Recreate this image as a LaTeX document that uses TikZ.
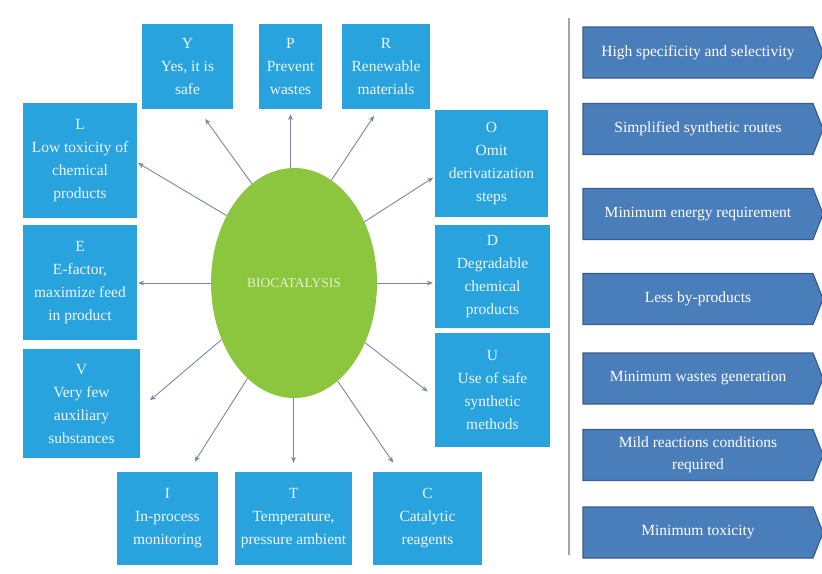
\documentclass[tikz,border=0pt]{standalone}
\usepackage{fontspec}
\setmainfont{Liberation Serif}
\usepackage{tikz}
\usetikzlibrary{shapes.geometric,shapes.symbols,arrows.meta}

\definecolor{letterblue}{RGB}{41,163,221}
\definecolor{lettertext}{RGB}{236,246,251}
\definecolor{meritblue}{RGB}{74,126,187}
\definecolor{meritline}{RGB}{56,93,138}
\definecolor{biogreen}{RGB}{140,198,63}
\definecolor{biotext}{RGB}{228,242,205}
\definecolor{raygray}{RGB}{120,136,165}
\definecolor{railgray}{RGB}{165,165,165}

\begin{document}
\begin{tikzpicture}[x=1pt,y=-1pt,
	letter/.style={fill=letterblue,text=lettertext,align=center,inner sep=0pt,
		font=\fontsize{15.5}{23}\selectfont},
	merit/.style={signal,signal to=east,signal pointer angle=137,fill=meritblue,
		draw=meritline,line width=1.2pt,text=white,align=center,inner sep=0pt,
		minimum width=240,minimum height=51,font=\fontsize{15.5}{22}\selectfont},
	ray/.style={draw=raygray,line width=0.9pt,-{Stealth[length=6pt,width=5pt]}}]
\useasboundingbox (0,0) rectangle (822,573);

% acrostic around the ellipse
\path (294,283) node[ellipse,fill=biogreen,minimum width=166,minimum height=230,
		inner sep=0pt,text=biotext,font=\fontsize{13.5}{15}\selectfont] (bio) {BIOCATALYSIS}
		(187.5,66.5) node[letter,minimum width=91,minimum height=85] (y) {Y\\Yes, it is\\safe}
		(290.5,66.5) node[letter,minimum width=63,minimum height=85] (p) {P\\Prevent\\wastes}
		(386,66.5) node[letter,minimum width=88,minimum height=85] (r) {R\\Renewable\\materials}
		(491.5,163.5) node[letter,minimum width=113,minimum height=107] (o) {O\\Omit\\derivatization\\steps}
		(492.5,276.5) node[letter,minimum width=115,minimum height=103] (d) {D\\Degradable\\chemical\\products}
		(492.5,390) node[letter,minimum width=115,minimum height=114] (u) {U\\Use of safe\\synthetic\\methods}
		(427.5,518.5) node[letter,minimum width=109,minimum height=93] (c) {C\\Catalytic\\reagents}
		(293.5,518.5) node[letter,minimum width=117,minimum height=93] (t) {T\\Temperature,\\pressure ambient}
		(167.5,518.5) node[letter,minimum width=101,minimum height=93] (i) {I\\In-process\\monitoring}
		(81.5,403.5) node[letter,minimum width=117,minimum height=109] (v) {V\\Very few\\auxiliary\\substances}
		(80,282.5) node[letter,minimum width=114,minimum height=115] (e) {E\\E-factor,\\maximize feed\\in product}
		(80,160.5) node[letter,minimum width=114,minimum height=115] (l) {L\\Low toxicity of\\chemical\\products}
		;

\draw[ray,shorten >=12pt] (node cs:name=bio,angle=113) -- (node cs:name=y,angle=-76);
\draw[ray,shorten >=5pt] (p.south |- bio.north) -- (p.south);
\draw[ray,shorten >=8pt] (node cs:name=bio,angle=70) -- (node cs:name=r,angle=-100);
\draw[ray,shorten >=2pt] (node cs:name=bio,angle=41) -- (node cs:name=o,angle=-167);
\draw[ray,shorten >=2pt] (bio.east) -- (bio.east -| d.west);
\draw[ray,shorten >=9pt] (node cs:name=bio,angle=-40) -- (node cs:name=u,angle=-173);
\draw[ray,shorten >=11pt] (node cs:name=bio,angle=-66) -- (node cs:name=c,angle=121);
\draw[ray,shorten >=9pt] (t.north |- bio.south) -- (t.north);
\draw[ray,shorten >=12pt] (node cs:name=bio,angle=244) -- (node cs:name=i,angle=66);
\draw[ray,shorten >=13pt] (node cs:name=bio,angle=218) -- (node cs:name=v,angle=-5);
\draw[ray,shorten >=1pt] (bio.west) -- (bio.west -| e.east);
\draw[ray,shorten >=1pt] (node cs:name=bio,angle=135) -- (node cs:name=l,angle=-2);

% advantages column
\draw[railgray,line width=1.5pt] (569,18) -- (569,555);
\path (698,52.5) node[merit] (spec) {High specificity and selectivity}
		(698,129) node[merit] (routes) {Simplified synthetic routes}
		(698,214) node[merit] (energy) {Minimum energy requirement}
		(698,299) node[merit] (byprod) {Less by-products}
		(698,378.5) node[merit] (waste) {Minimum wastes generation}
		(698,455) node[merit] (mild) {Mild reactions conditions\\required}
		(698,532.5) node[merit] (tox) {Minimum toxicity}
		;
\end{tikzpicture}
\end{document}
